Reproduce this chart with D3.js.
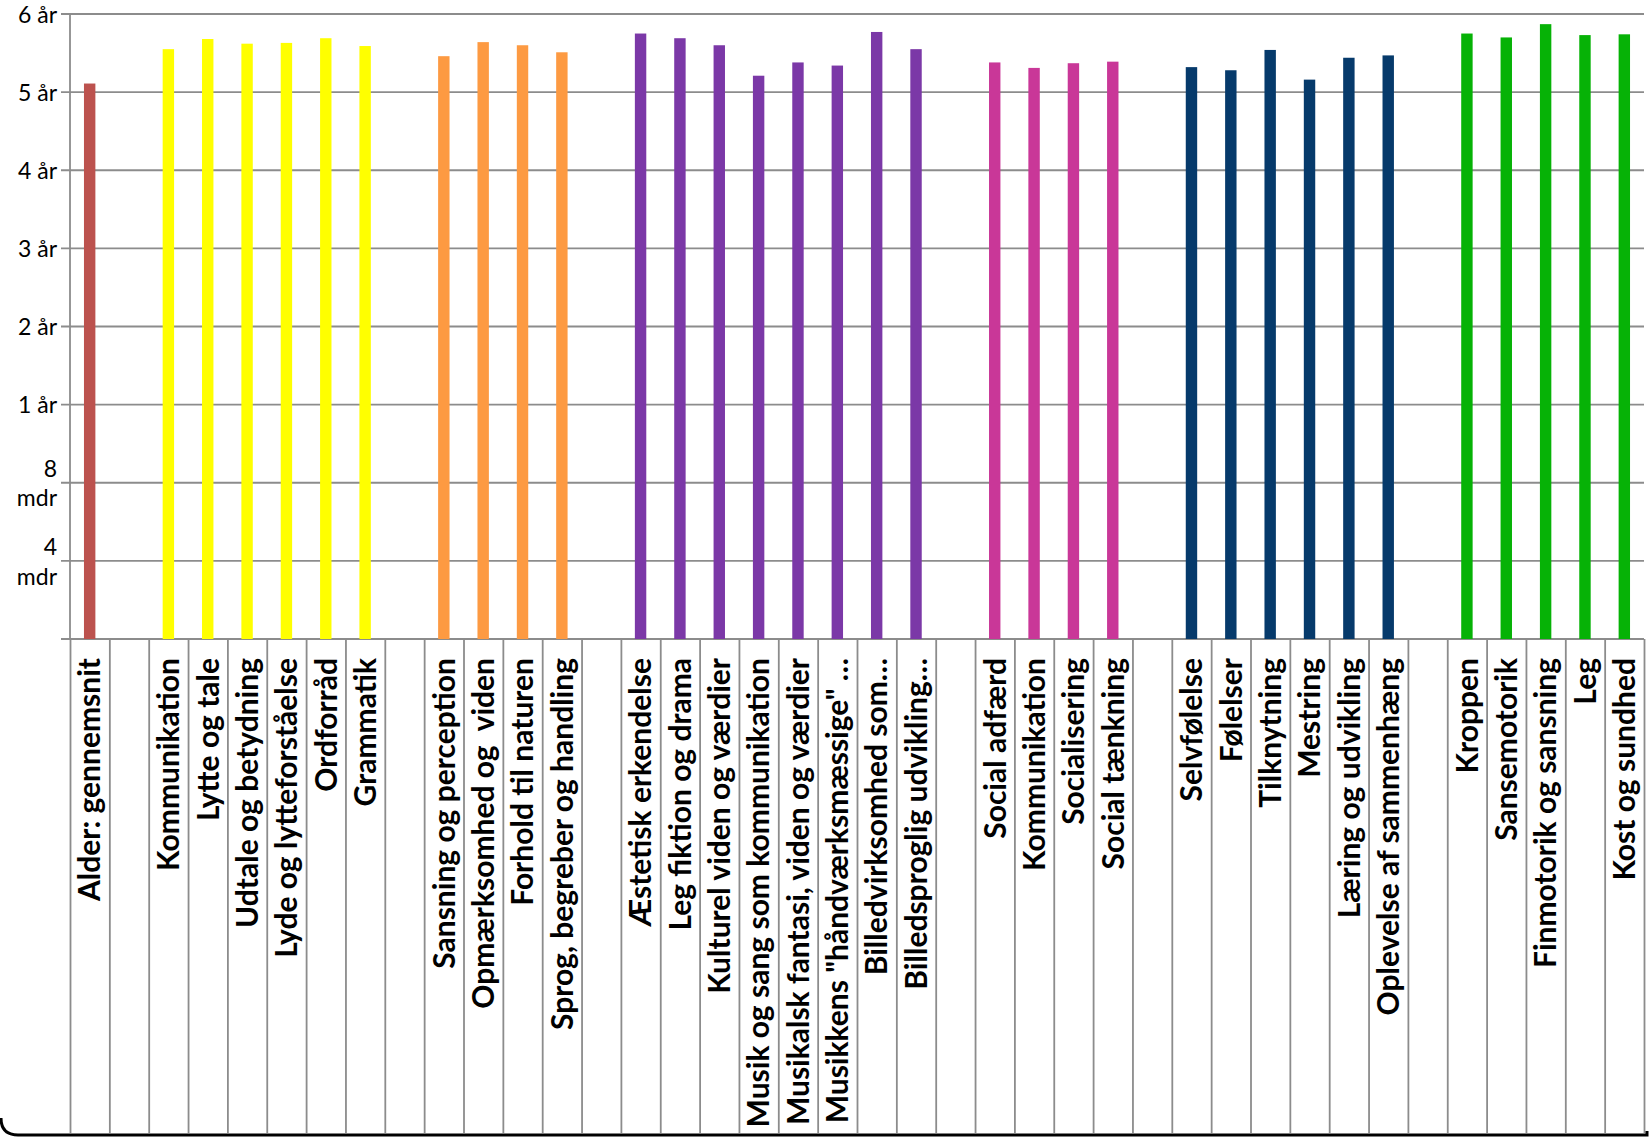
<!DOCTYPE html>
<html>
<head>
<meta charset="utf-8">
<script src="https://cdn.jsdelivr.net/npm/d3@7"></script>
<style>
    html, body { margin: 0; padding: 0; background: #fff; }
    svg { display: block; }
</style>
</head>
<body>
<div id="chart"></div>
<script>
// categories in chart order, "" = empty slot between groups
const categories = [
    "Alder: gennemsnit", "",
    "Kommunikation", "Lytte og tale", "Udtale og betydning", "Lyde og lytteforståelse", "Ordforråd", "Grammatik", "",
    "Sansning og perception", "Opmærksomhed og  viden", "Forhold til naturen", "Sprog, begreber og handling", "",
    "Æstetisk erkendelse", "Leg fiktion og drama", "Kulturel viden og værdier", "Musik og sang som kommunikation",
    "Musikalsk fantasi, viden og værdier", "Musikkens \"håndværksmæssige\" …", "Billedvirksomhed som…", "Billedsproglig udvikling…", "",
    "Social adfærd", "Kommunikation", "Socialisering", "Social tænkning", "",
    "Selvfølelse", "Følelser", "Tilknytning", "Mestring", "Læring og udvikling", "Oplevelse af sammenhæng", "",
    "Kroppen", "Sansemotorik", "Finmotorik og sansning", "Leg", "Kost og sundhed"
];

// age in years (null = no bar)
const values = [
    5.11, null,
    5.55, 5.68, 5.62, 5.63, 5.69, 5.59, null,
    5.46, 5.64, 5.60, 5.51, null,
    5.75, 5.69, 5.60, 5.21, 5.38, 5.34, 5.77, 5.55, null,
    5.38, 5.31, 5.37, 5.39, null,
    5.32, 5.28, 5.54, 5.16, 5.44, 5.47, null,
    5.75, 5.70, 5.87, 5.73, 5.74
];

// colour group of each category
const groups = [
    0, 0,
    1, 1, 1, 1, 1, 1, 1,
    2, 2, 2, 2, 2,
    3, 3, 3, 3, 3, 3, 3, 3, 3,
    4, 4, 4, 4, 4,
    5, 5, 5, 5, 5, 5, 5,
    6, 6, 6, 6, 6
];
const groupColors = ["#bc524e", "#ffff00", "#fd9a42", "#7b38a7", "#c93798", "#063a6b", "#06b206"];

// value axis: 0, 4 mdr, 8 mdr, 1 år ... 6 år
const tickValues = [0, 1 / 3, 2 / 3, 1, 2, 3, 4, 5, 6];
const tickLabels = [[""], ["4", "mdr"], ["8", "mdr"], ["1 år"], ["2 år"], ["3 år"], ["4 år"], ["5 år"], ["6 år"]];

const width = 1649;
const height = 1137;
const plotLeft = 70, plotRight = 1644, plotTop = 14, plotBottom = 639, tickBottom = 1133;
const gridColor = "#8c8c8c";

const svg = d3.select("#chart")
    .append("svg")
    .attr("width", width)
    .attr("height", height);

// months below 1 year get the same spacing as whole years above it
const y = d3.scaleLinear()
    .domain([0, 1, 6])
    .range([plotBottom, plotBottom - 3 * (plotBottom - plotTop) / 8, plotTop]);

const x = d3.scaleBand()
    .domain(d3.range(categories.length))
    .range([plotLeft, plotRight])
    .paddingInner(0.71)
    .paddingOuter(0.355);

const xEdges = d3.scaleLinear()
    .domain([0, categories.length])
    .range([plotLeft, plotRight]);

// horizontal grid lines
svg.append("g")
    .selectAll("line")
    .data(tickValues)
    .join("line")
    .attr("x1", plotLeft - 9)
    .attr("x2", plotRight)
    .attr("y1", d => y(d))
    .attr("y2", d => y(d))
    .attr("stroke", gridColor)
    .attr("stroke-width", 1.8);

// y axis line
svg.append("line")
    .attr("x1", plotLeft).attr("x2", plotLeft)
    .attr("y1", plotTop).attr("y2", plotBottom)
    .attr("stroke", gridColor)
    .attr("stroke-width", 1.8);

// y tick labels
const yLabels = svg.append("g")
    .selectAll("text")
    .data(tickValues)
    .join("text")
    .attr("x", plotLeft - 13)
    .attr("y", d => y(d))
    .attr("text-anchor", "end")
    .style("font-family", "Lato, 'Open Sans', sans-serif")
    .style("font-size", "23px")
    .style("fill", "#000");

yLabels.each(function(d, i) {
    const lines = tickLabels[i];
    const t = d3.select(this);
    lines.forEach((line, j) => {
        t.append("tspan")
            .attr("x", plotLeft - 13)
            .attr("dy", lines.length === 1 ? "0.38em" : (j === 0 ? "-0.27em" : "1.3em"))
            .text(line);
    });
});

// category separator lines below the axis
svg.append("g")
    .attr("transform", `translate(0,${plotBottom})`)
    .call(d3.axisBottom(xEdges)
        .tickValues(d3.range(categories.length + 1))
        .tickSize(tickBottom - plotBottom)
        .tickFormat(""))
    .call(g => g.select(".domain").remove())
    .call(g => g.selectAll("line").attr("stroke", gridColor).attr("stroke-width", 1.8));

// bars
svg.append("g")
    .selectAll("rect")
    .data(values.map((v, i) => ({ v: v, i: i })).filter(d => d.v !== null))
    .join("rect")
    .attr("x", d => x(d.i))
    .attr("width", x.bandwidth())
    .attr("y", d => y(d.v))
    .attr("height", d => y(0) - y(d.v))
    .attr("fill", d => groupColors[groups[d.i]]);

// category labels
svg.append("g")
    .selectAll("text")
    .data(categories)
    .join("text")
    .attr("transform", (d, i) => `translate(${x(i) + x.bandwidth() / 2},658) rotate(-90)`)
    .attr("text-anchor", "end")
    .attr("dy", "0.36em")
    .style("white-space", "pre")
    .style("font-family", "Lato, 'Open Sans', sans-serif")
    .style("font-weight", "bold")
    .style("font-size", "30px")
    .style("fill", "#000")
    .text(d => d);

// window frame edge at the bottom
svg.append("path")
    .attr("d", `M1,1118 Q1,${height - 2} 18,${height - 2} L${width - 2},${height - 2} L${width - 2},1131`)
    .attr("fill", "none")
    .attr("stroke", "#000")
    .attr("stroke-width", 3);
</script>
</body>
</html>
